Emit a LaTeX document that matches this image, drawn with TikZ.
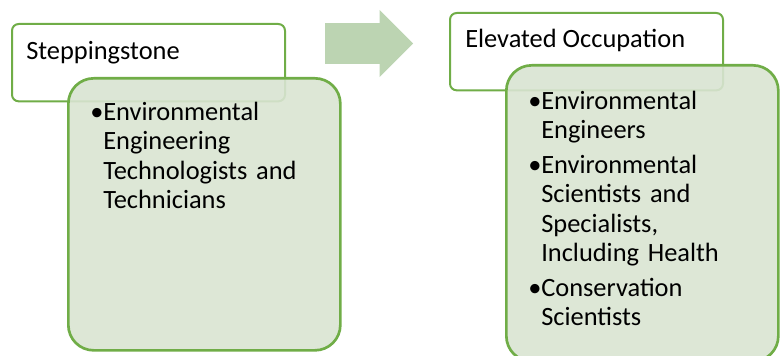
\documentclass[tikz,border=0pt]{standalone}
\usepackage{fontspec}
\setmainfont{Carlito}
\usepackage{xcolor}
\usepackage{tikz}
\usetikzlibrary{shapes.arrows,positioning,calc}

\definecolor{boxline}{RGB}{112,173,71}
\definecolor{boxfill}{RGB}{217,228,210}
\definecolor{arrfill}{RGB}{188,212,178}

\newcommand{\bitem}[1]{\par\hangindent=9.75pt\hangafter=1\noindent\makebox[9.75pt][l]{\textbullet}#1\par}

\begin{document}
\begin{tikzpicture}[
    x=0.75pt, y=-0.75pt,
    hdr/.style={rectangle, draw=boxline, fill=white, line width=1.5pt, rounded corners=5pt, minimum width=204.75pt, minimum height=58pt, anchor=north west, inner sep=0pt},
    grp/.style={rectangle, draw=boxline, fill=boxfill, fill opacity=0.9, line width=2pt, rounded corners=19pt, minimum width=204pt, anchor=north west, inner sep=0pt},
    htxt/.style={anchor=base west, inner sep=0pt, font=\fontsize{19.8}{22.1}\selectfont},
    ltxt/.style={anchor=north west, inner sep=0pt, text width=185pt, align=left, font=\fontsize{19.8}{22.1}\selectfont\setlength{\parskip}{3.75pt}},
    arr/.style={single arrow, fill=arrfill, draw=none, inner sep=0pt, text height=15pt, text depth=15pt, minimum height=66pt, single arrow head extend=10pt}
]
    \clip (0,0) rectangle (781,356);

    % steppingstone side
    \node [hdr] (stephead) at (11,23) {};
    \node [htxt] (steptxt) at (26,60) {Steppingstone};
    \node [grp, minimum height=204pt] (stepgrp) at (67,77) {};
    \node [ltxt] (steplist) at (90,85.5) {%
        \bitem{Environmental\newline Engineering\newline Technologists and\newline Technicians}};

    % arrow between the two
    \node [arr] (go) at (359,43.5) {};

    % elevated side
    \node [hdr] (elevhead) at (449,12) {};
    \node [htxt] (elevtxt) at (465,48) {Elevated Occupation};
    \node [grp, minimum height=222pt] (elevgrp) at (505,64) {};
    \node [ltxt] (elevlist) at (528,74.5) {%
        \bitem{Environmental\newline Engineers}
        \bitem{Environmental\newline Scientists and\newline Specialists,\newline Including Health}
        \bitem{Conservation\newline Scientists}};
\end{tikzpicture}
\end{document}
